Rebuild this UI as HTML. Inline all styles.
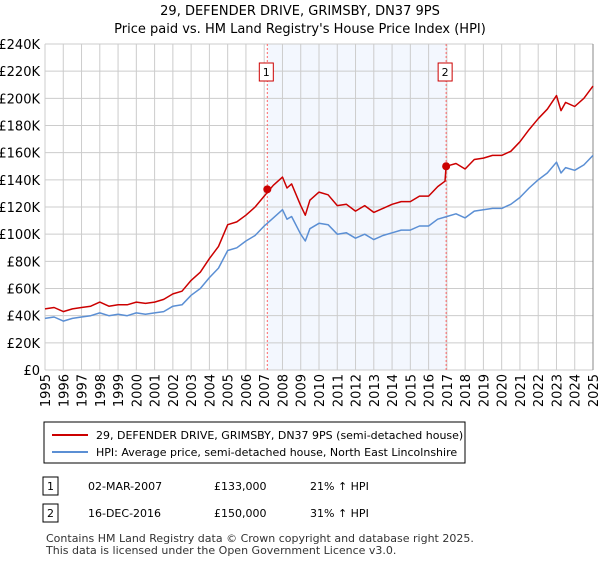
<!DOCTYPE html>
<html><head><meta charset="utf-8"><style>
body{margin:0;background:#fff;font-family:"Liberation Sans","DejaVu Sans",sans-serif;}
svg text{font-family:"DejaVu Sans","Liberation Sans",sans-serif;}
</style></head><body>
<svg id="c" width="600" height="560" xmlns="http://www.w3.org/2000/svg">
<text x="300" y="15" text-anchor="middle" font-size="13">29, DEFENDER DRIVE, GRIMSBY, DN37 9PS</text>
<text x="300" y="33" text-anchor="middle" font-size="13">Price paid vs. HM Land Registry's House Price Index (HPI)</text>
<g id="grid"></g><g id="series"></g>
<rect x="44" y="422" width="421" height="41" fill="#fff" stroke="#000" stroke-width="1"/>
<line x1="52" y1="435" x2="88" y2="435" stroke="#cc0000" stroke-width="2"/>
<text x="96" y="439" font-size="11">29, DEFENDER DRIVE, GRIMSBY, DN37 9PS (semi-detached house)</text>
<line x1="52" y1="452" x2="88" y2="452" stroke="#5b8fd4" stroke-width="2"/>
<text x="96" y="456" font-size="11">HPI: Average price, semi-detached house, North East Lincolnshire</text>
<rect x="43" y="477" width="15" height="18" fill="#fff" stroke="#000"/>
<text x="50.5" y="490" text-anchor="middle" font-size="11">1</text>
<text x="88" y="490" font-size="11">02-MAR-2007</text>
<text x="214" y="490" font-size="11">£133,000</text>
<text x="310" y="490" font-size="11">21% ↑ HPI</text>
<rect x="43" y="504" width="15" height="18" fill="#fff" stroke="#000"/>
<text x="50.5" y="517" text-anchor="middle" font-size="11">2</text>
<text x="88" y="517" font-size="11">16-DEC-2016</text>
<text x="214" y="517" font-size="11">£150,000</text>
<text x="310" y="517" font-size="11">31% ↑ HPI</text>
<text x="46" y="542" font-size="11" fill="#333">Contains HM Land Registry data © Crown copyright and database right 2025.</text>
<text x="46" y="554" font-size="11" fill="#333">This data is licensed under the Open Government Licence v3.0.</text>
</svg>
<script>
const yTicks=[0,20,40,60,80,100,120,140,160,180,200,220,240];
const years=[1995,1996,1997,1998,1999,2000,2001,2002,2003,2004,2005,2006,2007,2008,2009,2010,2011,2012,2013,2014,2015,2016,2017,2018,2019,2020,2021,2022,2023,2024,2025];
const hpiT=[1995,1995.5,1996,1996.5,1997,1997.5,1998,1998.5,1999,1999.5,2000,2000.5,2001,2001.5,2002,2002.5,2003,2003.5,2004,2004.5,2005,2005.5,2006,2006.5,2007,2007.25,2007.5,2007.75,2008,2008.25,2008.5,2009,2009.25,2009.5,2010,2010.5,2011,2011.5,2012,2012.5,2013,2013.5,2014,2014.5,2015,2015.5,2016,2016.5,2017,2017.5,2018,2018.5,2019,2019.5,2020,2020.5,2021,2021.5,2022,2022.5,2023,2023.25,2023.5,2024,2024.5,2025];
const hpiV=[38,39,36,38,39,40,42,40,41,40,42,41,42,43,47,48,55,60,68,75,88,90,95,99,106,109,112,115,118,111,113,100,95,104,108,107,100,101,97,100,96,99,101,103,103,106,106,111,113,115,112,117,118,119,119,122,127,134,140,145,153,145,149,147,151,158];
const priceT=[1995,1995.5,1996,1996.5,1997,1997.5,1998,1998.5,1999,1999.5,2000,2000.5,2001,2001.5,2002,2002.5,2003,2003.5,2004,2004.5,2005,2005.5,2006,2006.5,2007,2007.25,2007.5,2007.75,2008,2008.25,2008.5,2009,2009.25,2009.5,2010,2010.5,2011,2011.5,2012,2012.5,2013,2013.5,2014,2014.5,2015,2015.5,2016,2016.5,2016.9,2016.96,2017.5,2018,2018.5,2019,2019.5,2020,2020.5,2021,2021.5,2022,2022.5,2023,2023.25,2023.5,2024,2024.5,2025];
const priceV=[45,46,43,45,46,47,50,47,48,48,50,49,50,52,56,58,66,72,82,91,107,109,114,120,128,132,136,139,142,134,137,121,114,125,131,129,121,122,117,121,116,119,122,124,124,128,128,135,139,150,152,148,155,156,158,158,161,168,177,185,192,202,191,197,194,200,209];
const saleT=[2007.17,2016.96];
const saleV=[133,150];
const saleLabels=["1","2"];
const X0=45,X1=593,Y0=370,Y1=44;
const sx=t=>X0+(t-1995)/30*(X1-X0);
const sy=v=>Y0-v/240*(Y0-Y1);
const NS="http://www.w3.org/2000/svg";
const g=document.getElementById('grid'),s=document.getElementById('series');
function mk(p,tag,a){const e=document.createElementNS(NS,tag);for(const k in a)e.setAttribute(k,a[k]);p.appendChild(e);return e;}
let sh=mk(g,'rect',{x:sx(saleT[0]),y:Y1,width:sx(saleT[1])-sx(saleT[0]),height:Y0-Y1,fill:'#eef3fd',opacity:0.7});


yTicks.forEach(v=>{
 let l=mk(g,'line',{x1:X0,x2:X1,y1:sy(v),y2:sy(v),stroke:'#cccccc'});
 
 
 let t=mk(g,'text',{x:40,y:sy(v)+5,'text-anchor':'end','font-size':13});
 t.textContent=v===0?'£0':'£'+v+'K';
 
 
});
years.forEach(y=>{
 let l=mk(g,'line',{x1:sx(y),x2:sx(y),y1:Y1,y2:Y0,stroke:'#cccccc'});
 
 
 let t=mk(g,'text',{x:0,y:0,'text-anchor':'end','font-size':13,transform:`translate(${sx(y)+5},374) rotate(-90)`});
 t.textContent=y;
 
 
});
let ax=mk(g,'line',{x1:X1,x2:X1,y1:Y1,y2:Y0,stroke:'#888'});


saleT.forEach((t,i)=>{
 let l=mk(s,'line',{x1:sx(t),x2:sx(t),y1:Y1,y2:Y0,stroke:'#ff6666','stroke-dasharray':'2,2'});
 
 
});
function path(T,V,col,name){
 let d=T.map((t,i)=>(i?'L':'M')+sx(t).toFixed(1)+','+sy(V[i]).toFixed(1)).join('');
 let p=mk(s,'path',{d:d,fill:'none',stroke:col,'stroke-width':1.5,'stroke-linejoin':'round'});
 
 
}
path(hpiT,hpiV,'#5b8fd4','hpi-line');
path(priceT,priceV,'#cc0000','price-line');
saleT.forEach((t,i)=>{
 let c=mk(s,'circle',{cx:sx(t),cy:sy(saleV[i]),r:4,fill:'#cc0000'});
 
 
 let r=mk(s,'rect',{x:sx(t)-8,y:63,width:14,height:18,fill:'#fff',stroke:'#cc0000'});
 
 
 let tx=mk(s,'text',{x:sx(t)-1,y:76,'text-anchor':'middle','font-size':11});
 tx.textContent=saleLabels[i];
 
 
});
</script>
</body></html>
